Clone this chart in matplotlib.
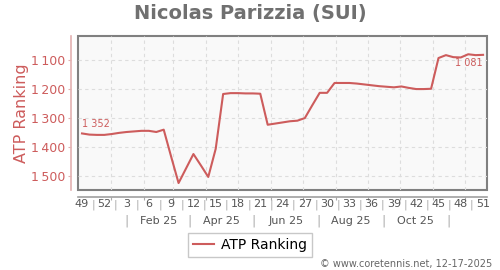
import matplotlib
matplotlib.use("Agg")
import matplotlib.pyplot as plt
import matplotlib.dates as mdates
from matplotlib.lines import Line2D
import pandas as pd

# ---- data ----
title = "Nicolas Parizzia (SUI)"
first_week = "2024-12-05"   # mid-week of ISO week 49, 2024
ranks = [1352, 1356, 1357, 1357, 1354, 1350, 1347, 1345, 1343, 1343,
         1347, 1339, 1432, 1523, 1473, 1423, 1462, 1502, 1405, 1216,
         1213, 1213, 1214, 1214, 1215, 1322, 1318, 1314, 1310, 1308,
         1299, 1255, 1212, 1212, 1178, 1178, 1178, 1180, 1183, 1186,
         1189, 1191, 1193, 1190, 1195, 1199, 1199, 1198, 1092, 1082,
         1089, 1090, 1079, 1082, 1081]
week_labels = ["49", "52", "3", "6", "9", "12", "15", "18", "21", "24", "27",
               "30", "33", "36", "39", "42", "45", "48", "51"]
month_labels = ["Feb 25", "Apr 25", "Jun 25", "Aug 25", "Oct 25"]
month_label_dates = ["2025-02-15", "2025-04-15", "2025-06-15", "2025-08-15", "2025-10-15"]
month_sep_dates = ["2025-01-16", "2025-03-16", "2025-05-16", "2025-07-16", "2025-09-15", "2025-11-15"]
yticks = [1100, 1200, 1300, 1400, 1500]

dates = pd.date_range(first_week, periods=len(ranks), freq="7D")
week_dates = pd.date_range(first_week, periods=len(week_labels), freq="21D")

LINE = "#cd5c5c"
PINK = "#e3b0b0"
GRAY_TXT = "#555555"


def fmt(v):
    return f"{v // 1000}\u2009{v % 1000:03d}"


fig = plt.figure(figsize=(5, 2.7), dpi=100)
W, H = 500, 270
ax = fig.add_axes([78 / W, 1 - 190 / H, (487 - 78) / W, (190 - 35.7) / H])

ax.plot(dates, ranks, color=LINE, lw=1.5, zorder=3)

ax.set_xlim(pd.Timestamp("2024-12-01 05:00"), pd.Timestamp("2025-12-21 17:00"))
ax.set_ylim(1547, 1015)

ax.set_facecolor("#f9f9f9")
ax.patch.set_edgecolor("#808080")
ax.patch.set_linewidth(1.5)

for s in ["top", "right"]:
    ax.spines[s].set_visible(False)
ax.spines["left"].set_position(("outward", 5))
ax.spines["left"].set_color(PINK)
ax.spines["left"].set_linewidth(1.2)
ax.spines["bottom"].set_position(("outward", 5))
ax.spines["bottom"].set_color("#a0a0a0")
ax.spines["bottom"].set_linewidth(1.2)

ax.set_yticks(yticks)
ax.set_yticklabels([fmt(v) for v in yticks])
ax.tick_params(axis="y", colors=PINK, labelcolor=LINE, length=2.2, labelsize=9, pad=2)

ax.xaxis.set_major_locator(mdates.MonthLocator())
ax.tick_params(axis="x", colors="#aaaaaa", length=2.5, labelbottom=False)
ax.grid(True, color="#dddddd", linestyle=(0, (3, 3)), lw=0.8)

ax.set_ylabel("ATP Ranking", color=LINE, fontsize=11.5, labelpad=1.5)

# week labels and separators
for d, lab in zip(week_dates, week_labels):
    ax.annotate(lab, xy=(d, 0), xycoords=("data", "axes fraction"),
                xytext=(0, -14.3), textcoords="offset pixels",
                ha="center", va="center", fontsize=8, color=GRAY_TXT,
                annotation_clip=False)
for d in week_dates[:-1]:
    ax.annotate("|", xy=(d + pd.Timedelta(days=10.5), 0), xycoords=("data", "axes fraction"),
                xytext=(0, -14.3), textcoords="offset pixels",
                ha="center", va="center", fontsize=8, color="#aaaaaa",
                annotation_clip=False)
for d, lab in zip(pd.to_datetime(month_label_dates), month_labels):
    ax.annotate(lab, xy=(d, 0), xycoords=("data", "axes fraction"),
                xytext=(0, -30.7), textcoords="offset pixels",
                ha="center", va="center", fontsize=8, color=GRAY_TXT,
                annotation_clip=False)
for d in pd.to_datetime(month_sep_dates):
    ax.annotate("|", xy=(d, 0), xycoords=("data", "axes fraction"),
                xytext=(0, -30.7), textcoords="offset pixels",
                ha="center", va="center", fontsize=9, color="#aaaaaa",
                annotation_clip=False)

# end labels
ax.annotate(f"{ranks[0] // 1000} {ranks[0] % 1000:03d}", xy=(dates[0], ranks[0]),
            xytext=(0, 9), textcoords="offset pixels", ha="left", va="center",
            fontsize=7, color=LINE)
ax.annotate(f"{ranks[-1] // 1000} {ranks[-1] % 1000:03d}", xy=(dates[-1], ranks[-1]),
            xytext=(0, -8.5), textcoords="offset pixels", ha="right", va="center",
            fontsize=7, color=LINE)

fig.text(0.5, 1 - 13.5 / H, title, ha="center", va="center",
         fontsize=14, fontweight="bold", color="#707070")

handle = Line2D([], [], color=LINE, lw=1.5)
fig.legend([handle], ["ATP Ranking"], loc="center", bbox_to_anchor=(250 / W, 1 - 245 / H),
           fontsize=10, frameon=True, fancybox=False, edgecolor="#bbbbbb",
           handlelength=1.5, handletextpad=0.5, borderpad=0.35, borderaxespad=0)

fig.text(492 / W, 1 - 264 / H, "\u00a9 www.coretennis.net, 12-17-2025",
         ha="right", va="center", fontsize=7, color="#666666")

fig.savefig("out.png", dpi=100, facecolor="white")
